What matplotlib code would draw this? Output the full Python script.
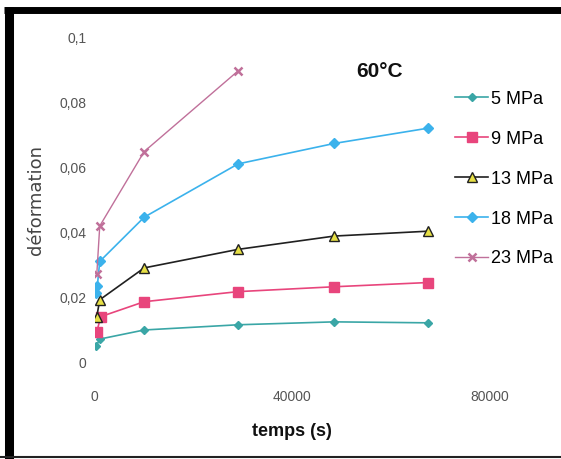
import matplotlib.pyplot as plt
from matplotlib.lines import Line2D
from matplotlib.ticker import FuncFormatter

# creep data (time in s, strain)
t_5 = [300, 1000, 10000, 29000, 48500, 67500]
e_5 = [0.0050, 0.0071, 0.0099, 0.0115, 0.0124, 0.0121]

t_9 = [400, 1200, 10000, 29000, 48500, 67500]
e_9 = [0.0093, 0.0140, 0.0186, 0.0217, 0.0232, 0.0245]

t_13 = [400, 1000, 10000, 29000, 48500, 67500]
e_13 = [0.0140, 0.0192, 0.0290, 0.0347, 0.0388, 0.0403]

t_18 = [300, 500, 1000, 10000, 29000, 48500, 67500]
e_18 = [0.0214, 0.0233, 0.0310, 0.0446, 0.0610, 0.0673, 0.0720]

t_23 = [400, 1000, 10000, 29000]
e_23 = [0.0270, 0.0419, 0.0648, 0.0896]

labels = ['5 MPa', '9 MPa', '13 MPa', '18 MPa', '23 MPa']
y_ticks = [0, 0.02, 0.04, 0.06, 0.08, 0.1]
x_ticks = [0, 40000, 80000]

plt.rcParams['font.family'] = ['Liberation Sans', 'DejaVu Sans']

fig = plt.figure(figsize=(5.61, 4.59), dpi=100)
ax = fig.add_axes([0.169, 0.211, 0.704, 0.708])

ax.plot(t_5, e_5, color='#3aa6a6', lw=1.2, marker='D', ms=4.5, label=labels[0])
ax.plot(t_9, e_9, color='#e8457c', lw=1.2, marker='s', ms=6.5, label=labels[1])
ax.plot(t_13, e_13, color='#202020', lw=1.2, marker='^', ms=7,
        mfc='#e6df45', mec='#202020', label=labels[2])
ax.plot(t_18, e_18, color='#3bb2ec', lw=1.2, marker='D', ms=5.5, label=labels[3])
ax.plot(t_23, e_23, color='#c0709a', lw=1.0, marker='x', ms=6, mew=1.8,
        label=labels[4])

ax.set_xlim(0, 80000)
ax.set_ylim(0, 0.1)
ax.set_xticks(x_ticks)
ax.set_yticks(y_ticks)
ax.yaxis.set_major_formatter(FuncFormatter(
    lambda v, p: '0' if v == 0 else ('%g' % round(v, 2)).replace('.', ',')))
ax.xaxis.set_major_formatter(FuncFormatter(lambda v, p: '%d' % v))
ax.tick_params(length=0, labelsize=10, colors='#555555')
ax.tick_params(axis='x', pad=20)
ax.tick_params(axis='y', pad=6)
for s in ax.spines.values():
    s.set_visible(False)

ax.text(0.72, 0.895, '60°C', transform=ax.transAxes, ha='center', va='center',
        fontsize=15, fontweight='bold', color='#111111')

ax.set_xlabel('temps (s)', fontsize=13, fontweight='bold', color='#111111',
              labelpad=14)
ax.set_ylabel('déformation', fontsize=13, color='#444444', labelpad=10,
              family='DejaVu Sans')

fig.legend(loc='upper left', bbox_to_anchor=(0.799, 0.818), frameon=False,
           fontsize=13, handlelength=1.8, handletextpad=0.15,
           labelspacing=1.27, borderaxespad=0)

# black frame lines of the scanned picture (left, top, bottom)
fig.add_artist(Line2D([0.0152, 0.0152], [0.0, 0.985], transform=fig.transFigure,
                      color='black', lw=6.5, solid_capstyle='butt'))
fig.add_artist(Line2D([0.0072, 1.0], [0.9793, 0.9793], transform=fig.transFigure,
                      color='black', lw=5, solid_capstyle='butt'))
fig.add_artist(Line2D([0.0, 1.0], [0.004, 0.004], transform=fig.transFigure,
                      color='#222222', lw=1.5))

fig.savefig('out.png', dpi=100)
